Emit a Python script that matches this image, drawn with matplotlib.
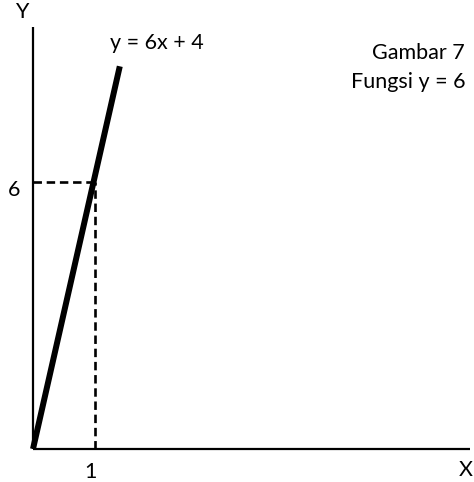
import matplotlib.pyplot as plt

plt.rcParams['font.family'] = ['Lato', 'DejaVu Sans']

# schematic line (drawn through the origin)
line_x = [0, 1.4]
line_y = [0, 8.6]

# marked point
px, py = 1, 6
x_ticks = [1]
y_ticks = [6]

eq_label = "y = 6x + 4"
caption = ["Gambar 7", "Fungsi y = 6"]

fig = plt.figure(figsize=(4.74, 4.82), dpi=100)
ax = fig.add_axes([0, 0, 1, 1])
ax.set_xlim(-0.532, 7.113)
ax.set_ylim(-0.742, 10.09)
ax.axis('off')

# axes
ax.plot([0, 0], [0, 9.48], color='black', lw=1.6, solid_capstyle='butt')
ax.plot([0, 7.05], [0, 0], color='black', lw=1.6, solid_capstyle='butt')

# guide lines
ax.plot([0, px], [py, py], color='black', lw=1.9, ls=(0, (3.2, 1.8)))
ax.plot([px, px], [0, py], color='black', lw=1.9, ls=(0, (3.2, 1.8)))

# the function line
ax.plot(line_x, line_y, color='black', lw=4.3, solid_capstyle='butt')

fs = 15.5
ax.text(-0.177, 9.82, "Y", fontsize=fs, ha='center', va='center')
ax.text(7.1, -0.47, "X", fontsize=fs, ha='right', va='center')
ax.text(-0.306, y_ticks[0] - 0.18, str(y_ticks[0]), fontsize=fs, ha='center', va='center')
ax.text(x_ticks[0] - 0.065, -0.517, str(x_ticks[0]), fontsize=fs, ha='center', va='center')
ax.text(1.24, 9.12, eq_label, fontsize=fs, ha='left', va='center')
ax.text(5.47, 8.9, caption[0], fontsize=fs, ha='left', va='center')
ax.text(5.13, 8.25, caption[1], fontsize=fs, ha='left', va='center')

fig.savefig("out.png", dpi=100)
